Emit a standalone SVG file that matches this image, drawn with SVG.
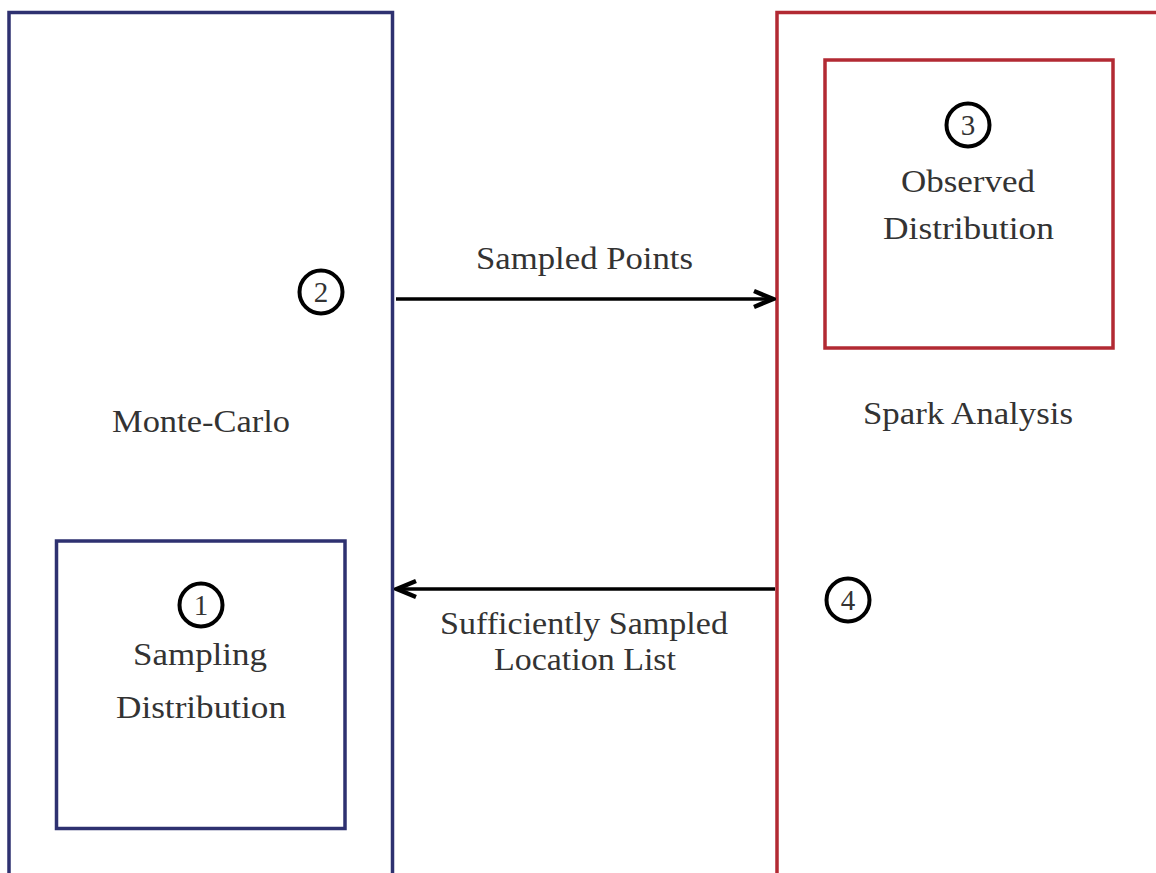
<svg xmlns="http://www.w3.org/2000/svg" width="1156" height="873" viewBox="0 0 1156 873">
<style>
.blue{fill:none;stroke:#2e3170;stroke-width:3.5}
.red{fill:none;stroke:#b22a33;stroke-width:3.5}
.lbl{font-family:"Liberation Serif","Times New Roman",serif;font-size:31px;fill:#333;text-anchor:middle}
.num{font-family:"Liberation Serif","Times New Roman",serif;font-size:29px;fill:#333;text-anchor:middle}
.circ{fill:#fff;stroke:#000;stroke-width:4}
.conn{stroke:#000;stroke-width:3.5;fill:none}
</style>
<defs>
<marker id="arr" viewBox="0 0 24 22" refX="21" refY="11" markerWidth="24" markerHeight="22" markerUnits="userSpaceOnUse" orient="auto">
<path d="M2,3 L21,11 L2,19" fill="none" stroke="#000" stroke-width="4.5" stroke-linejoin="miter"/>
</marker>
</defs>
<g id="monte-carlo">
<rect class="blue" x="9" y="12.5" width="383.5" height="900"/>
<text class="lbl" x="201" y="432" textLength="178" lengthAdjust="spacingAndGlyphs">Monte-Carlo</text>
</g>
<g id="sampling-distribution">
<rect class="blue" x="56.5" y="541" width="288.5" height="287.5"/>
<text class="lbl" x="200" y="665" textLength="134" lengthAdjust="spacingAndGlyphs">Sampling</text>
<text class="lbl" x="201" y="718" textLength="170" lengthAdjust="spacingAndGlyphs">Distribution</text>
</g>
<g id="spark-analysis">
<rect class="red" x="777" y="12.5" width="500" height="900"/>
<text class="lbl" x="968" y="424" textLength="210" lengthAdjust="spacingAndGlyphs">Spark Analysis</text>
</g>
<g id="observed-distribution">
<rect class="red" x="825" y="60" width="288" height="288"/>
<text class="lbl" x="968" y="192" textLength="134" lengthAdjust="spacingAndGlyphs">Observed</text>
<text class="lbl" x="968.5" y="239" textLength="171" lengthAdjust="spacingAndGlyphs">Distribution</text>
</g>
<g id="connectors">
<line class="conn" x1="396" y1="299" x2="773" y2="299" marker-end="url(#arr)"/>
<line class="conn" x1="775" y1="589" x2="397" y2="589" marker-end="url(#arr)"/>
<text class="lbl" x="584.5" y="269" textLength="217" lengthAdjust="spacingAndGlyphs">Sampled Points</text>
<text class="lbl" x="584" y="634" textLength="288" lengthAdjust="spacingAndGlyphs">Sufficiently Sampled</text>
<text class="lbl" x="585" y="670" textLength="182" lengthAdjust="spacingAndGlyphs">Location List</text>
</g>
<g id="badge-1"><circle class="circ" cx="201" cy="605" r="21.5"/><text class="num" x="201" y="615">1</text></g>
<g id="badge-2"><circle class="circ" cx="321" cy="292" r="21.5"/><text class="num" x="321" y="302">2</text></g>
<g id="badge-3"><circle class="circ" cx="968" cy="125" r="21.5"/><text class="num" x="968" y="135">3</text></g>
<g id="badge-4"><circle class="circ" cx="848" cy="600" r="21.5"/><text class="num" x="848" y="610">4</text></g>
</svg>
